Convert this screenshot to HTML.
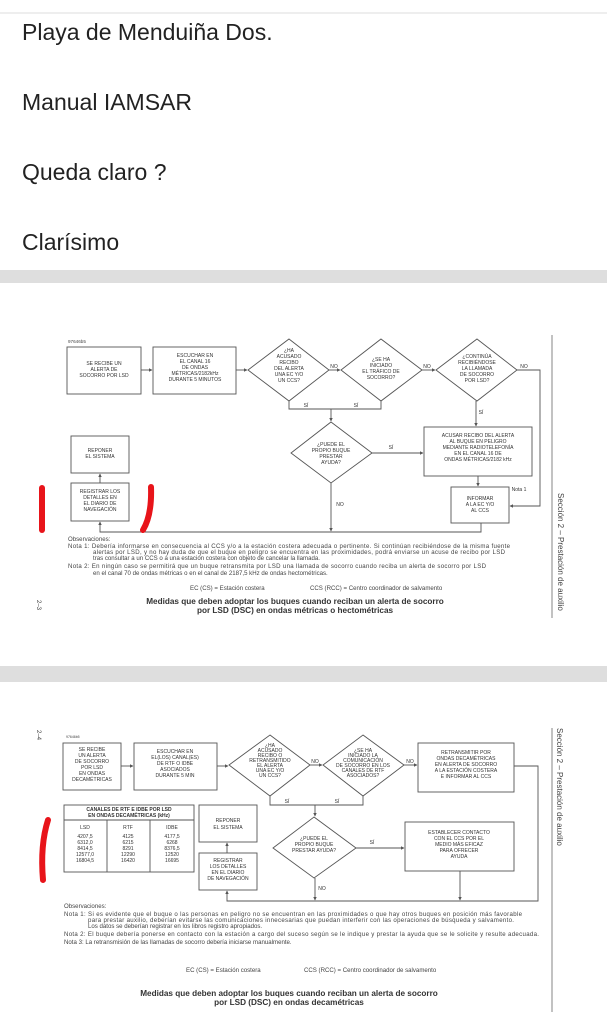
<!DOCTYPE html>
<html><head><meta charset="utf-8"><style>
html,body{margin:0;padding:0;background:#fff;width:607px;height:1024px;overflow:hidden}
svg{position:absolute;left:0;top:0}
.t{font-family:"Liberation Sans",sans-serif;font-size:5px;fill:#333;text-anchor:middle}
.l{font-family:"Liberation Sans",sans-serif;font-size:4.6px;fill:#444}
.n{font-family:"Liberation Sans",sans-serif;font-size:6.1px;fill:#444}
.h{font-family:"Liberation Sans",sans-serif;font-size:23px;fill:#222}
.b{font-family:"Liberation Sans",sans-serif;font-size:8.2px;fill:#333;font-weight:bold;text-anchor:middle}
</style></head><body>
<svg width="607" height="1024" viewBox="0 0 607 1024" xmlns="http://www.w3.org/2000/svg">
<defs><marker id="a" markerWidth="4" markerHeight="4" refX="3.5" refY="2" orient="auto"><path d="M0,0 L4,2 L0,4z" fill="#555"/></marker></defs>
<line x1="0" y1="13" x2="607" y2="13" stroke="#ddd" stroke-width="1"/>
<text class="h" x="22" y="40">Playa de Menduiña Dos.</text>
<text class="h" x="22" y="110">Manual IAMSAR</text>
<text class="h" x="22" y="180">Queda claro ?</text>
<text class="h" x="22" y="250">Clarísimo</text>
<rect x="0" y="270" width="607" height="13" fill="#dedede"/>
<rect x="0" y="666" width="607" height="16" fill="#dedede"/>

<g stroke="#555" stroke-width="0.9" fill="none">
<!-- diagram 1 -->
<rect x="67" y="347" width="74" height="47"/>
<rect x="153" y="347" width="83" height="47"/>
<path d="M289,339 L329,370 L289,401 L248,370Z"/>
<path d="M381,339 L422,370 L381,401 L341,370Z"/>
<path d="M477,339 L517,370 L477,401 L436,370Z"/>
<path d="M331,422 L372,453 L331,483 L291,453Z"/>
<rect x="424" y="427" width="108" height="49"/>
<rect x="71" y="436" width="58" height="37"/>
<rect x="71" y="483" width="58" height="38"/>
<rect x="451" y="487" width="58" height="36"/>
<line x1="141" y1="370" x2="152" y2="370" marker-end="url(#a)"/>
<line x1="236" y1="370" x2="247" y2="370" marker-end="url(#a)"/>
<line x1="329" y1="370" x2="340" y2="370" marker-end="url(#a)"/>
<line x1="422" y1="370" x2="435" y2="370" marker-end="url(#a)"/>
<path d="M517,370 L540,370 L540,506 L510,506" marker-end="url(#a)"/>
<path d="M289,401 L289,409 L381,409 L381,401"/>
<line x1="331" y1="409" x2="331" y2="421" marker-end="url(#a)"/>
<line x1="476" y1="401" x2="476" y2="426" marker-end="url(#a)"/>
<line x1="372" y1="453" x2="423" y2="453" marker-end="url(#a)"/>
<line x1="478" y1="476" x2="478" y2="486" marker-end="url(#a)"/>
<line x1="331" y1="483" x2="331" y2="531" marker-end="url(#a)"/>
<path d="M481,523 L481,532 L100,532 L100,522" marker-end="url(#a)"/>
<line x1="100" y1="483" x2="100" y2="474" marker-end="url(#a)"/>
<line x1="552" y1="335" x2="552" y2="618" stroke="#777"/>
<!-- diagram 2 -->
<rect x="63" y="743" width="58" height="47"/>
<rect x="134" y="743" width="83" height="47"/>
<path d="M270,735 L310,765 L270,796 L229,765Z"/>
<path d="M363,735 L404,765 L363,796 L323,765Z"/>
<rect x="418" y="743" width="96" height="49"/>
<path d="M314,817 L356,848 L314,878 L273,848Z"/>
<rect x="405" y="822" width="109" height="49"/>
<rect x="64" y="805" width="130" height="67"/>
<line x1="64" y1="820" x2="194" y2="820"/>
<line x1="107" y1="820" x2="107" y2="872"/>
<line x1="150" y1="820" x2="150" y2="872"/>
<rect x="199" y="805" width="58" height="37"/>
<rect x="199" y="853" width="58" height="37"/>
<line x1="121" y1="766" x2="133" y2="766" marker-end="url(#a)"/>
<line x1="217" y1="766" x2="228" y2="766" marker-end="url(#a)"/>
<line x1="310" y1="765" x2="322" y2="765" marker-end="url(#a)"/>
<line x1="404" y1="765" x2="417" y2="765" marker-end="url(#a)"/>
<path d="M270,796 L270,805 L363,805 L363,796"/>
<line x1="315" y1="805" x2="315" y2="816" marker-end="url(#a)"/>
<line x1="356" y1="848" x2="404" y2="848" marker-end="url(#a)"/>
<path d="M514,766 L538,766 L538,901 L227,901 L227,891" marker-end="url(#a)"/>
<line x1="315" y1="878" x2="315" y2="900" marker-end="url(#a)"/>
<line x1="460" y1="871" x2="460" y2="900" marker-end="url(#a)"/>
<line x1="227" y1="853" x2="227" y2="843" marker-end="url(#a)"/>
<line x1="552" y1="728" x2="552" y2="1012" stroke="#777"/>
</g>

<!-- diagram 1 text -->
<text class="l" x="68" y="343">97646b5</text>
<text class="t" x="104" y="365">SE RECIBE UN</text><text class="t" x="104" y="371">ALERTA DE</text><text class="t" x="104" y="377">SOCORRO POR LSD</text>
<text class="t" x="195" y="357">ESCUCHAR EN</text><text class="t" x="195" y="363">EL CANAL 16</text><text class="t" x="195" y="369">DE ONDAS</text><text class="t" x="195" y="375">MÉTRICAS/2182kHz</text><text class="t" x="195" y="381">DURANTE 5 MINUTOS</text>
<text class="t" x="289" y="352">¿HA</text><text class="t" x="289" y="358">ACUSADO</text><text class="t" x="289" y="364">RECIBO</text><text class="t" x="289" y="370">DEL ALERTA</text><text class="t" x="289" y="376">UNA EC Y/O</text><text class="t" x="289" y="382">UN CCS?</text>
<text class="t" x="381" y="361">¿SE HA</text><text class="t" x="381" y="367">INICIADO</text><text class="t" x="381" y="373">EL TRÁFICO DE</text><text class="t" x="381" y="379">SOCORRO?</text>
<text class="t" x="477" y="358">¿CONTINÚA</text><text class="t" x="477" y="364">RECIBIÉNDOSE</text><text class="t" x="477" y="370">LA LLAMADA</text><text class="t" x="477" y="376">DE SOCORRO</text><text class="t" x="477" y="382">POR LSD?</text>
<text class="t" x="334" y="368">NO</text><text class="t" x="427" y="368">NO</text><text class="t" x="524" y="368">NO</text>
<text class="t" x="306" y="407">SÍ</text><text class="t" x="356" y="407">SÍ</text><text class="t" x="481" y="414">SÍ</text>
<text class="t" x="331" y="446">¿PUEDE EL</text><text class="t" x="331" y="452">PROPIO BUQUE</text><text class="t" x="331" y="458">PRESTAR</text><text class="t" x="331" y="464">AYUDA?</text>
<text class="t" x="391" y="449">SÍ</text>
<text class="t" x="478" y="437">ACUSAR RECIBO DEL ALERTA</text><text class="t" x="478" y="443">AL BUQUE EN PELIGRO</text><text class="t" x="478" y="449">MEDIANTE RADIOTELEFONÍA</text><text class="t" x="478" y="455">EN EL CANAL 16 DE</text><text class="t" x="478" y="461">ONDAS MÉTRICAS/2182 kHz</text>
<text class="t" x="100" y="452">REPONER</text><text class="t" x="100" y="458">EL SISTEMA</text>
<text class="t" x="100" y="493">REGISTRAR LOS</text><text class="t" x="100" y="499">DETALLES EN</text><text class="t" x="100" y="505">EL DIARIO DE</text><text class="t" x="100" y="511">NAVEGACIÓN</text>
<text class="t" x="480" y="500">INFORMAR</text><text class="t" x="480" y="506">A LA EC Y/O</text><text class="t" x="480" y="512">AL CCS</text>
<text class="t" x="519" y="491">Nota 1</text><text class="t" x="340" y="506">NO</text>
<text class="n" x="68" y="541">Observaciones:</text>
<text class="n" x="68" y="548" textLength="442">Nota 1: Debería informarse en consecuencia al CCS y/o a la estación costera adecuada o pertinente. Si continúan recibiéndose de la misma fuente</text>
<text class="n" x="93" y="554" textLength="412">alertas por LSD, y no hay duda de que el buque en peligro se encuentra en las proximidades, podrá enviarse un acuse de recibo por LSD</text>
<text class="n" x="93" y="560">tras consultar a un CCS o a una estación costera con objeto de cancelar la llamada.</text>
<text class="n" x="68" y="568" textLength="418">Nota 2: En ningún caso se permitirá que un buque retransmita por LSD una llamada de socorro cuando reciba un alerta de socorro por LSD</text>
<text class="n" x="93" y="575">en el canal 70 de ondas métricas o en el canal de 2187,5 kHz de ondas hectométricas.</text>
<text class="n" x="190" y="590">EC (CS) = Estación costera</text><text class="n" x="310" y="590">CCS (RCC) = Centro coordinador de salvamento</text>
<text class="b" x="295" y="604">Medidas que deben adoptar los buques cuando reciban un alerta de socorro</text>
<text class="b" x="295" y="613">por LSD (DSC) en ondas métricas o hectométricas</text>
<text class="l" transform="translate(558,493) rotate(90)" style="font-size:8px">Sección 2 – Prestación de auxilio</text>
<text class="l" transform="translate(37,600) rotate(90)" style="font-size:6px">2–3</text>

<!-- diagram 2 text -->
<text class="l" x="66" y="738" style="font-size:3.5px">97646b5</text>
<text class="t" x="92" y="751">SE RECIBE</text><text class="t" x="92" y="757">UN ALERTA</text><text class="t" x="92" y="763">DE SOCORRO</text><text class="t" x="92" y="769">POR LSD</text><text class="t" x="92" y="775">EN ONDAS</text><text class="t" x="92" y="781">DECAMÉTRICAS</text>
<text class="t" x="175" y="753">ESCUCHAR EN</text><text class="t" x="175" y="759">EL(LOS) CANAL(ES)</text><text class="t" x="175" y="765">DE RTF O IDBE</text><text class="t" x="175" y="771">ASOCIADOS</text><text class="t" x="175" y="777">DURANTE 5 MIN</text>
<text class="t" x="270" y="747">¿HA</text><text class="t" x="270" y="752">ACUSADO</text><text class="t" x="270" y="757">RECIBO O</text><text class="t" x="270" y="762">RETRANSMITIDO</text><text class="t" x="270" y="767">EL ALERTA</text><text class="t" x="270" y="772">UNA EC Y/O</text><text class="t" x="270" y="777">UN CCS?</text>
<text class="t" x="363" y="752">¿SE HA</text><text class="t" x="363" y="757">INICIADO LA</text><text class="t" x="363" y="762">COMUNICACIÓN</text><text class="t" x="363" y="767">DE SOCORRO EN LOS</text><text class="t" x="363" y="772">CANALES DE RTF</text><text class="t" x="363" y="777">ASOCIADOS?</text>
<text class="t" x="466" y="754">RETRANSMITIR POR</text><text class="t" x="466" y="760">ONDAS DECAMÉTRICAS</text><text class="t" x="466" y="766">EN ALERTA DE SOCORRO</text><text class="t" x="466" y="772">A LA ESTACIÓN COSTERA</text><text class="t" x="466" y="778">E INFORMAR AL CCS</text>
<text class="t" x="315" y="763">NO</text><text class="t" x="410" y="763">NO</text>
<text class="t" x="287" y="803">SÍ</text><text class="t" x="337" y="803">SÍ</text>
<text class="t" x="129" y="811" style="font-weight:bold">CANALES DE RTF E IDBE POR LSD</text><text class="t" x="129" y="817" style="font-weight:bold">EN ONDAS DECAMÉTRICAS (kHz)</text>
<text class="t" x="85" y="829">LSD</text><text class="t" x="128" y="829">RTF</text><text class="t" x="172" y="829">IDBE</text>
<text class="t" x="85" y="838">4207,5</text><text class="t" x="85" y="844">6312,0</text><text class="t" x="85" y="850">8414,5</text><text class="t" x="85" y="856">12577,0</text><text class="t" x="85" y="862">16804,5</text>
<text class="t" x="128" y="838">4125</text><text class="t" x="128" y="844">6215</text><text class="t" x="128" y="850">8291</text><text class="t" x="128" y="856">12290</text><text class="t" x="128" y="862">16420</text>
<text class="t" x="172" y="838">4177,5</text><text class="t" x="172" y="844">6268</text><text class="t" x="172" y="850">8376,5</text><text class="t" x="172" y="856">12520</text><text class="t" x="172" y="862">16695</text>
<text class="t" x="228" y="822">REPONER</text><text class="t" x="228" y="829">EL SISTEMA</text>
<text class="t" x="228" y="862">REGISTRAR</text><text class="t" x="228" y="868">LOS DETALLES</text><text class="t" x="228" y="874">EN EL DIARIO</text><text class="t" x="228" y="880">DE NAVEGACIÓN</text>
<text class="t" x="314" y="840">¿PUEDE EL</text><text class="t" x="314" y="846">PROPIO BUQUE</text><text class="t" x="314" y="852">PRESTAR AYUDA?</text>
<text class="t" x="372" y="844">SÍ</text><text class="t" x="322" y="890">NO</text>
<text class="t" x="459" y="834">ESTABLECER CONTACTO</text><text class="t" x="459" y="840">CON EL CCS POR EL</text><text class="t" x="459" y="846">MEDIO MÁS EFICAZ</text><text class="t" x="459" y="852">PARA OFRECER</text><text class="t" x="459" y="858">AYUDA</text>
<text class="n" x="64" y="908">Observaciones:</text>
<text class="n" x="64" y="916" textLength="458">Nota 1: Si es evidente que el buque o las personas en peligro no se encuentran en las proximidades o que hay otros buques en posición más favorable</text>
<text class="n" x="88" y="922" textLength="426">para prestar auxilio, deberían evitarse las comunicaciones innecesarias que puedan interferir con las operaciones de búsqueda y salvamento.</text>
<text class="n" x="88" y="928">Los datos se deberían registrar en los libros registro apropiados.</text>
<text class="n" x="64" y="936" textLength="475">Nota 2: El buque debería ponerse en contacto con la estación a cargo del suceso según se le indique y prestar la ayuda que se le solicite y resulte adecuada.</text>
<text class="n" x="64" y="944">Nota 3: La retransmisión de las llamadas de socorro debería iniciarse manualmente.</text>
<text class="n" x="186" y="972">EC (CS) = Estación costera</text><text class="n" x="304" y="972">CCS (RCC) = Centro coordinador de salvamento</text>
<text class="b" x="289" y="996">Medidas que deben adoptar los buques cuando reciban un alerta de socorro</text>
<text class="b" x="289" y="1005">por LSD (DSC) en ondas decamétricas</text>
<text class="l" transform="translate(557,728) rotate(90)" style="font-size:8px">Sección 2 – Prestación de auxilio</text>
<text class="l" transform="translate(37,730) rotate(90)" style="font-size:6px">2–4</text>

<!-- red marks -->
<g stroke="#e8141a" stroke-width="6" stroke-linecap="round" fill="none">
<path d="M42,488 L42,530"/>
<path d="M151,487 Q152,515 143,530"/>
<path d="M48,820 Q40,845 43,880"/>
</g>
</svg>
</body></html>
